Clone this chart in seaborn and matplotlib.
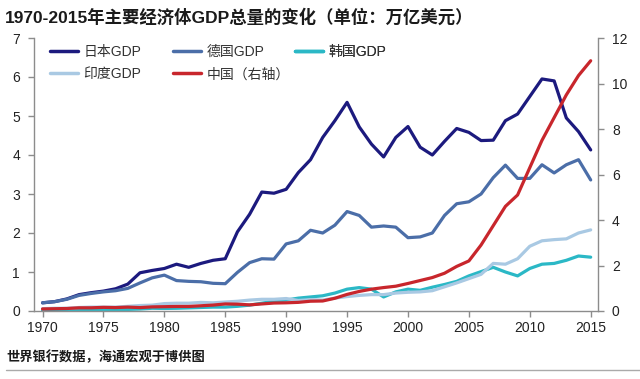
import numpy as np
import pandas as pd
import seaborn as sns
import matplotlib
matplotlib.use("Agg")
import matplotlib.pyplot as plt
from matplotlib.lines import Line2D

sns.set_theme(style="white")
plt.rcParams['font.family'] = ['Liberation Sans', 'Noto Sans CJK SC', 'DejaVu Sans']
plt.rcParams['axes.unicode_minus'] = False

years = list(range(1970, 2016))
# 左轴（万亿美元）
japan = [0.21, 0.24, 0.31, 0.42, 0.47, 0.51, 0.57, 0.69, 0.98, 1.04,
         1.09, 1.20, 1.12, 1.22, 1.30, 1.34, 2.03, 2.48, 3.05, 3.02,
         3.12, 3.55, 3.88, 4.45, 4.88, 5.35, 4.72, 4.28, 3.95, 4.45,
         4.73, 4.20, 4.00, 4.35, 4.68, 4.58, 4.37, 4.38, 4.88, 5.05,
         5.50, 5.95, 5.90, 4.95, 4.60, 4.13]
germany = [0.21, 0.24, 0.30, 0.40, 0.45, 0.49, 0.52, 0.58, 0.72, 0.85,
           0.92, 0.78, 0.76, 0.75, 0.71, 0.70, 0.99, 1.24, 1.34, 1.33,
           1.72, 1.80, 2.07, 2.00, 2.20, 2.55, 2.45, 2.15, 2.18, 2.15,
           1.88, 1.90, 2.00, 2.45, 2.75, 2.80, 3.00, 3.42, 3.74, 3.40,
           3.40, 3.75, 3.54, 3.75, 3.88, 3.36]
korea = [0.01, 0.01, 0.01, 0.01, 0.02, 0.02, 0.03, 0.04, 0.05, 0.07,
         0.065, 0.07, 0.08, 0.09, 0.10, 0.10, 0.12, 0.15, 0.20, 0.25,
         0.28, 0.33, 0.36, 0.39, 0.46, 0.56, 0.60, 0.56, 0.36, 0.49,
         0.56, 0.53, 0.61, 0.68, 0.76, 0.90, 1.01, 1.12, 1.00, 0.90,
         1.09, 1.20, 1.22, 1.30, 1.41, 1.38]
india = [0.06, 0.07, 0.07, 0.09, 0.10, 0.10, 0.10, 0.12, 0.14, 0.15,
         0.19, 0.20, 0.20, 0.22, 0.21, 0.23, 0.25, 0.28, 0.30, 0.30,
         0.32, 0.27, 0.29, 0.28, 0.33, 0.37, 0.40, 0.42, 0.42, 0.46,
         0.48, 0.49, 0.52, 0.62, 0.72, 0.83, 0.94, 1.22, 1.20, 1.34,
         1.66, 1.80, 1.83, 1.85, 2.00, 2.08]
# 右轴
china = [0.09, 0.10, 0.11, 0.14, 0.14, 0.16, 0.15, 0.17, 0.15, 0.18,
         0.19, 0.20, 0.20, 0.23, 0.26, 0.31, 0.30, 0.27, 0.31, 0.35,
         0.36, 0.38, 0.43, 0.44, 0.56, 0.73, 0.86, 0.96, 1.03, 1.09,
         1.21, 1.34, 1.47, 1.66, 1.96, 2.20, 2.90, 3.75, 4.60, 5.10,
         6.30, 7.50, 8.50, 9.50, 10.35, 11.0]

names = ["日本GDP", "德国GDP", "韩国GDP", "印度GDP", "中国（右轴）"]
colors = ["#1c1a7e", "#4b6ea8", "#2bb8c6", "#a9c9e3", "#c8262c"]

df = pd.DataFrame({"year": years, "日本GDP": japan, "德国GDP": germany,
                   "韩国GDP": korea, "印度GDP": india})

fig = plt.figure(figsize=(6.4, 3.79), dpi=100)
ax = fig.add_axes([34/640, 1-311/379, (598-34)/640, (311-38)/379])
ax2 = ax.twinx()

for name, c in zip(names[:4], colors[:4]):
    sns.lineplot(data=df, x="year", y=name, ax=ax, color=c, lw=2.3, legend=False)
sns.lineplot(x=years, y=china, ax=ax2, color=colors[4], lw=2.3, legend=False)

ax.set_xlim(1969.3, 2015.6)
ax.set_ylim(0, 7)
ax2.set_ylim(0, 12)
ax.set_xticks(range(1970, 2016, 5))
ax.set_yticks(range(0, 8))
ax2.set_yticks(range(0, 13, 2))
ax.set_xlabel("")
ax.set_ylabel("")
ax2.set_ylabel("")

gray = "#8c8c8c"
for a in (ax, ax2):
    a.spines["top"].set_visible(False)
    for s in ("left", "right", "bottom"):
        a.spines[s].set_color(gray)
        a.spines[s].set_linewidth(1)
    a.tick_params(colors=gray, labelcolor="#222222", labelsize=10, length=4, width=1)
ax.spines["right"].set_visible(False)
ax2.spines["left"].set_visible(False)
ax2.spines["bottom"].set_visible(False)
ax.tick_params(axis="x", bottom=True, direction="out", pad=3)
ax.tick_params(axis="y", left=True, direction="out", pad=6)
ax2.tick_params(axis="y", right=True, direction="out", pad=6)

# 图例按列摆放
handles = [Line2D([], [], color=c, lw=2.5) for c in colors]
cols = [([0, 3], 50), ([1, 4], 173), ([2], 295)]
for idx, xpix in cols:
    leg = ax2.legend([handles[i] for i in idx], [names[i] for i in idx],
                     loc="upper left", bbox_to_anchor=(xpix/640, 1-45/379),
                     bbox_transform=fig.transFigure, frameon=False, fontsize=10,
                     handlelength=2.0, handletextpad=0.4, labelspacing=0.6,
                     borderpad=0, borderaxespad=0)
    for t in leg.get_texts():
        t.set_color("#333333")
    ax2.add_artist(leg)

fig.text(5/640, 1-17/379, "1970-2015年主要经济体GDP总量的变化（单位：万亿美元）",
         fontsize=12.5, fontweight="bold", color="#1a1a1a", va="center", ha="left")
fig.text(6/640, 1-357/379, "世界银行数据，海通宏观于博供图",
         fontsize=9.5, fontweight="bold", color="#1a1a1a", va="center", ha="left")
fig.add_artist(Line2D([6/640, 1], [1-370/379, 1-370/379], color="#aaaaaa", lw=1,
                      transform=fig.transFigure))

fig.savefig("out.png", dpi=100)
